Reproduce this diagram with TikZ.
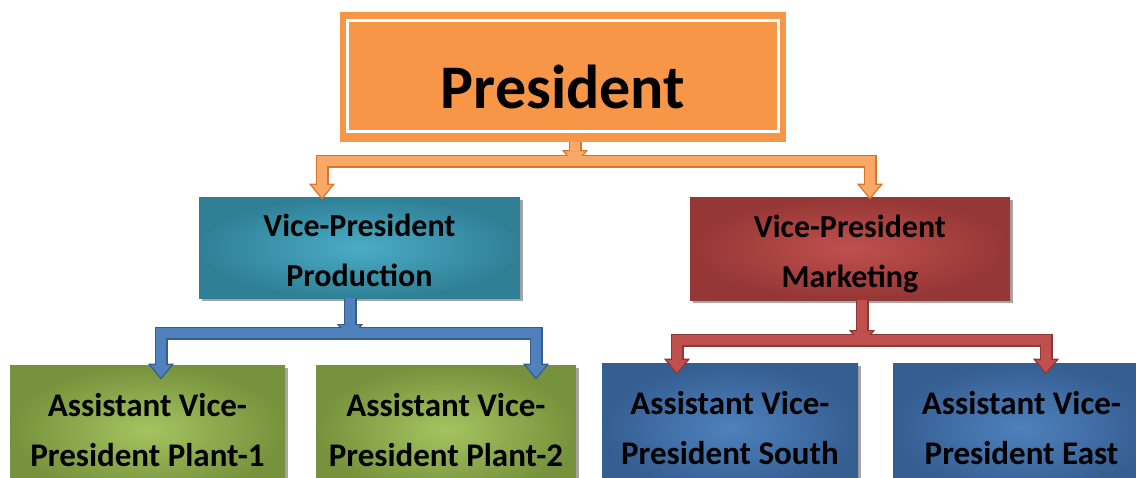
\documentclass[tikz,border=0pt]{standalone}
\usepackage{fontspec}
\setmainfont{Carlito}
\usepackage{tikz}
\usetikzlibrary{calc,positioning,shadows,arrows.meta}

\definecolor{presorange}{HTML}{F79646}
\definecolor{orangedark}{HTML}{D9742A}
\definecolor{orangelight}{HTML}{F9A865}
\definecolor{tealin}{HTML}{4BACC6}
\definecolor{tealout}{HTML}{2F8096}
\definecolor{redin}{HTML}{C0504D}
\definecolor{redout}{HTML}{953735}
\definecolor{greenin}{HTML}{A4C460}
\definecolor{greenout}{HTML}{76923C}
\definecolor{bluein}{HTML}{4F81BD}
\definecolor{blueout}{HTML}{355E91}
\definecolor{bluedark}{HTML}{385D8A}
\definecolor{bluelight}{HTML}{4F81BD}
\definecolor{reddark}{HTML}{8C3836}
\definecolor{redlight}{HTML}{C0504D}

\tikzset{
  orgbox/.style={rectangle, inner sep=0pt, align=center, font=\bfseries,
    drop shadow={shadow xshift=1.5pt, shadow yshift=-1.5pt, opacity=0.7}},
  vpbox/.style={orgbox, font=\bfseries\fontsize{16}{23}\selectfont},
  avpbox/.style={orgbox, font=\bfseries\fontsize{16.5}{25}\selectfont},
  tube/.style={line width=6.5pt, line cap=rect},
  glow/.style={line width=5pt, line cap=rect},
  arrowend/.style={-{Triangle[width=13pt,length=8pt,line width=0.6pt,fill=#1]}, line cap=butt},
  glowend/.style={shorten >=7.5pt, line cap=butt}
}

\begin{document}
\begin{tikzpicture}[x=0.5pt,y=-0.5pt]
\useasboundingbox (0,0) rectangle (1136,477);

%Top box
\node[rectangle, fill=presorange, minimum width=223pt, minimum height=65pt,
  font=\bfseries\fontsize{31}{36}\selectfont] (pres) at (563,77) {\raisebox{-15.5pt}[0pt][0pt]{President}};
\draw[white, line width=1.3pt] ($(pres.north west)+(8,9)$) rectangle ($(pres.south east)+(-8,-11)$);

%Vice-presidents
\node[vpbox, inner color=tealin, outer color=tealout, minimum width=160.5pt, minimum height=50.5pt]
  (prod) at (359.5,247.5) {\raisebox{-2.5pt}[\height][\depth]{\begin{tabular}{@{}c@{}}Vice-President\\[2pt]Production\end{tabular}}};
\node[vpbox, inner color=redin, outer color=redout, minimum width=160pt, minimum height=51.5pt]
  (mark) at (850,248.5) {\raisebox{-2.5pt}[\height][\depth]{\begin{tabular}{@{}c@{}}Vice-President\\[2pt]Marketing\end{tabular}}};

%Assistants
\node[avpbox, inner color=greenin, outer color=greenout, minimum width=137.5pt, minimum height=65pt]
  (plant1) at (147.5,430) {Assistant Vice-\\President Plant-1};
\node[avpbox, inner color=greenin, outer color=greenout, minimum width=130pt, minimum height=65pt]
  (plant2) at (446,430) {Assistant Vice-\\President Plant-2};
\node[avpbox, inner color=bluein, outer color=blueout, minimum width=128pt, minimum height=65pt]
  (south) at (730,428) {Assistant Vice-\\President South};
\node[avpbox, inner color=bluein, outer color=blueout, minimum width=128.5pt, minimum height=65pt]
  (east) at (1021.5,428) {Assistant Vice-\\President East};

%Bars
\coordinate (pbar) at (575,161);
\coordinate (oL) at (322,161);
\coordinate (oR) at (870,161);
\coordinate (vbar) at (350,333);
\coordinate (bL) at (161,333);
\coordinate (bR) at (536,333);
\coordinate (mbar) at (862,340);
\coordinate (rL) at (677,340);
\coordinate (rR) at (1046,340);

%Orange connectors
\draw[tube, orangedark] (oL) -- (oR);
\draw[tube, arrowend=orangelight, orangedark] (oL) -- ($(oL |- prod.north)+(0,3)$);
\draw[tube, arrowend=orangelight, orangedark] (oR) -- ($(oR |- mark.north)+(0,3)$);
\draw[tube, arrowend=orangelight, orangedark] (pbar |- pres.south) -- ($(pbar)+(0,5)$);
\draw[glow, orangelight] (oL) -- (oR);
\draw[glow, glowend, orangelight] (oL) -- ($(oL |- prod.north)+(0,3)$);
\draw[glow, glowend, orangelight] (oR) -- ($(oR |- mark.north)+(0,3)$);
\draw[glow, glowend, orangelight] (pbar |- pres.south) -- ($(pbar)+(0,5)$);

%Blue connectors
\draw[tube, bluedark] (bL) -- (bR);
\draw[tube, arrowend=bluelight, bluedark] (bL) -- ($(bL |- plant1.north)+(0,15)$);
\draw[tube, arrowend=bluelight, bluedark] (bR) -- ($(bR |- plant2.north)+(0,15)$);
\draw[tube, arrowend=bluelight, bluedark] (vbar |- prod.south) -- ($(vbar)+(0,7)$);
\draw[glow, bluelight] (bL) -- (bR);
\draw[glow, glowend, bluelight] (bL) -- ($(bL |- plant1.north)+(0,15)$);
\draw[glow, glowend, bluelight] (bR) -- ($(bR |- plant2.north)+(0,15)$);
\draw[glow, glowend, bluelight] (vbar |- prod.south) -- ($(vbar)+(0,7)$);

%Red connectors
\draw[tube, reddark] (rL) -- (rR);
\draw[tube, arrowend=redlight, reddark] (rL) -- ($(rL |- south.north)+(0,12)$);
\draw[tube, arrowend=redlight, reddark] (rR) -- ($(rR |- east.north)+(0,12)$);
\draw[tube, arrowend=redlight, reddark] (mbar |- mark.south) -- ($(mbar)+(0,6)$);
\draw[glow, redlight] (rL) -- (rR);
\draw[glow, glowend, redlight] (rL) -- ($(rL |- south.north)+(0,12)$);
\draw[glow, glowend, redlight] (rR) -- ($(rR |- east.north)+(0,12)$);
\draw[glow, glowend, redlight] (mbar |- mark.south) -- ($(mbar)+(0,6)$);

\end{tikzpicture}
\end{document}
